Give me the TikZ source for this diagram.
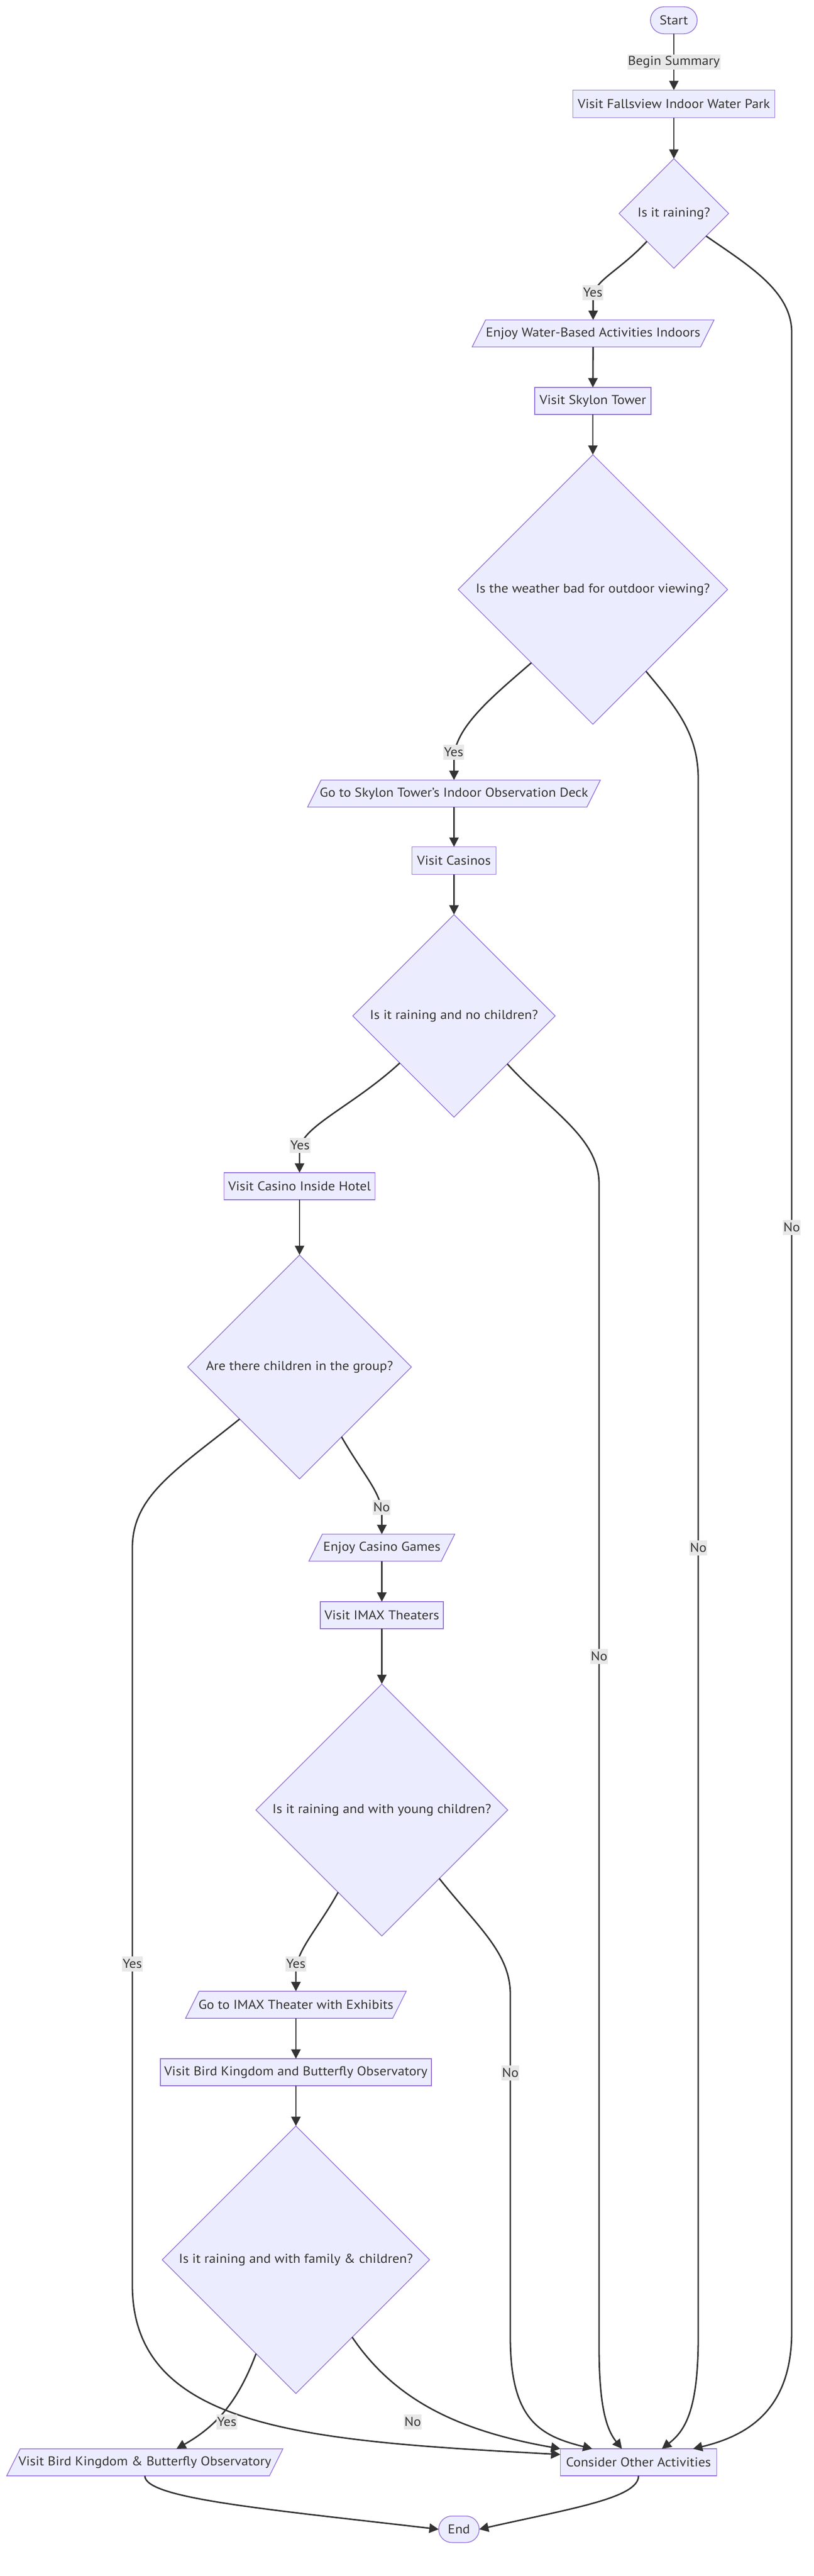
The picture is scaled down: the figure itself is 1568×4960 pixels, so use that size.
\documentclass[tikz,border=0pt]{standalone}
\usepackage{fontspec}
\setmainfont{PT Sans}[FakeStretch=1.07]
\usetikzlibrary{shapes.geometric,arrows.meta,calc,backgrounds}
\definecolor{nodefill}{HTML}{ECECFF}
\definecolor{nodeline}{HTML}{9370DB}
\definecolor{edgecol}{HTML}{333333}
\definecolor{lblbg}{HTML}{E8E8E8}
\definecolor{txt}{HTML}{333333}
\begin{document}
\begin{tikzpicture}[x=1pt,y=1pt,
  every node/.style={font=\fontsize{24.7}{29}\selectfont, text=txt},
  box/.style={rectangle, draw=nodeline, fill=nodefill, line width=1.4pt, minimum height=52pt, inner sep=0pt, outer sep=0pt},
  term/.style={box, rounded corners=26pt},
  para/.style={rectangle, minimum height=52pt, inner sep=0pt, outer sep=0pt},
  parashape/.style={draw=nodeline, fill=nodefill, line width=1.4pt},
  dia/.style={diamond, aspect=1, draw=nodeline, fill=nodefill, line width=1.4pt, inner sep=0pt, outer sep=0pt},
  edge/.style={draw=edgecol, line width=2.8pt, -{Triangle[length=18pt,width=18pt]}},
  lbl/.style={fill=lblbg, inner xsep=1pt, inner ysep=0pt, minimum height=29pt}]
\begin{scope}[on background layer]
\fill[white] (0,0) rectangle (1568,-4960);
\end{scope}
\useasboundingbox (0,0) rectangle (1568,-4960);

% nodes
\node[term, minimum width=90pt] (start) at (1298,-39) {Start};
\node[box, minimum width=389pt, minimum height=53pt] (fall) at (1298,-200) {Visit Fallsview Indoor Water Park};
\node[dia, minimum width=211pt, minimum height=211pt] (d1) at (1298,-411) {Is it raining?};
\node[para, minimum width=440pt] (ew) at (1142.5,-642) {Enjoy Water-Based Activities Indoors};
\node[box, minimum width=224pt] (sky) at (1142,-772) {Visit Skylon Tower};
\node[dia, minimum width=519pt, minimum height=519pt] (d2) at (1142,-1135) {Is the weather bad for outdoor viewing?};
\node[para, minimum width=538pt] (goc) at (874.5,-1528) {Go to Skylon Tower's Indoor Observation Deck};
\node[box, minimum width=162pt, minimum height=53pt] (cas) at (874.5,-1657) {Visit Casinos};
\node[dia, minimum width=390pt, minimum height=390pt] (d3) at (874.5,-1956) {Is it raining and no children?};
\node[box, minimum width=291pt] (hotel) at (577,-2284) {Visit Casino Inside Hotel};
\node[dia, minimum width=431pt, minimum height=431pt] (d4) at (577,-2632) {Are there children in the group?};
\node[para, minimum width=255pt] (ecg) at (735.5,-2980) {Enjoy Casino Games};
\node[box, minimum width=237pt] (imax) at (735.5,-3110) {Visit IMAX Theaters};
\node[dia, minimum width=485pt, minimum height=485pt] (d5) at (735.5,-3485) {Is it raining and with young children?};
\node[para, minimum width=399pt] (goi) at (570,-3860) {Go to IMAX Theater with Exhibits};
\node[box, minimum width=522pt] (bird) at (570,-3990) {Visit Bird Kingdom and Butterfly Observatory};
\node[dia, minimum width=515pt, minimum height=515pt] (d6) at (570,-4351) {Is it raining and with family \& children?};
\node[para, minimum width=506pt] (bam) at (279,-4741) {Visit Bird Kingdom \& Butterfly Observatory};
\node[box, minimum width=301pt] (coa) at (1230,-4741) {Consider Other Activities};
\node[term, minimum width=78pt, minimum height=51pt, rounded corners=25.5pt] (end) at (884,-4870) {End};

\begin{scope}[on background layer]
\foreach \n in {ew,goc,ecg,goi,bam}
  \draw[parashape] ([xshift=13pt]\n.north west) -- ([xshift=13pt]\n.north east) -- ([xshift=-13pt]\n.south east) -- ([xshift=-13pt]\n.south west) -- cycle;
\end{scope}

% edges
\draw[edge] (start.south) -- node[lbl] (l0) {Begin Summary} (fall.north);
\draw[edge] (fall.south) -- (d1.north);
\draw[edge] (d1.-134) .. controls (1190,-525) and (1142,-540) .. (1142.5,-575) -- (ew.north);
\draw[edge] (d1.-35) .. controls (1440,-510) and (1525,-560) .. (1525,-640) -- (1525,-4490) .. controls (1525,-4640) and (1440,-4690) .. ([xshift=105pt]coa.north);
\draw[edge] (ew.south) -- (sky.north);
\draw[edge] (sky.south) -- (d2.north);
\draw[edge] (d2.-130) .. controls (950,-1340) and (876,-1400) .. (874.5,-1460) -- (goc.north);
\draw[edge] (d2.-57) .. controls (1300,-1360) and (1345,-1410) .. (1345,-1500) -- (1345,-4500) .. controls (1345,-4640) and (1320,-4680) .. ([xshift=45pt]coa.north);
\draw[edge] (goc.south) -- (cas.north);
\draw[edge] (cas.south) -- (d3.north);
\draw[edge] (d3.-139) .. controls (680,-2130) and (578,-2170) .. (577,-2215) -- (hotel.north);
\draw[edge] (d3.-42) .. controls (1060,-2140) and (1154,-2190) .. (1154,-2280) -- (1154,-4520) .. controls (1154,-4640) and (1170,-4680) .. ([xshift=-32pt]coa.north);
\draw[edge] (hotel.south) -- (d4.north);
\draw[edge] (d4.-139.5) .. controls (340,-2830) and (255,-2880) .. (255,-2980) -- (255,-4400) .. controls (255,-4680) and (600,-4700) .. ([yshift=15pt]coa.west);
\draw[edge] (d4.-59.6) .. controls (700,-2840) and (735.5,-2875) .. (735.5,-2915) -- (ecg.north);
\draw[edge] (ecg.south) -- (imax.north);
\draw[edge] (imax.south) -- (d5.north);
\draw[edge] (d5.-118.6) .. controls (615,-3710) and (571,-3755) .. (570,-3795) -- (goi.north);
\draw[edge] (d5.-50) .. controls (920,-3710) and (983,-3760) .. (983,-3840) -- (983,-4500) .. controls (983,-4660) and (1040,-4690) .. ([xshift=-89pt]coa.north);
\draw[edge] (goi.south) -- (bird.north);
\draw[edge] (bird.south) -- (d6.north);
\draw[edge] (d6.-113) .. controls (460,-4620) and (420,-4670) .. ([xshift=61pt]bam.north);
\draw[edge] (d6.-54) .. controls (760,-4620) and (880,-4680) .. (coa.north west);
\draw[edge] (bam.south) .. controls (279,-4810) and (500,-4830) .. (end.west);
\draw[edge] (coa.south) .. controls (1230,-4810) and (1100,-4830) .. (end.east);

% edge labels
\node[lbl] (l1) at (1142,-563) {Yes};
\node[lbl] (l2) at (1525,-2363) {No};
\node[lbl] (l3) at (874,-1448) {Yes};
\node[lbl] (l4) at (1345,-2980) {No};
\node[lbl] (l5) at (578,-2205) {Yes};
\node[lbl] (l6) at (1154,-3189) {No};
\node[lbl] (l7) at (255,-3781) {Yes};
\node[lbl] (l8) at (735,-2902) {No};
\node[lbl] (l9) at (570,-3781) {Yes};
\node[lbl] (l10) at (983,-3991) {No};
\node[lbl] (l11) at (437,-4663) {Yes};
\node[lbl] (l12) at (795,-4663) {No};
\end{tikzpicture}
\end{document}
